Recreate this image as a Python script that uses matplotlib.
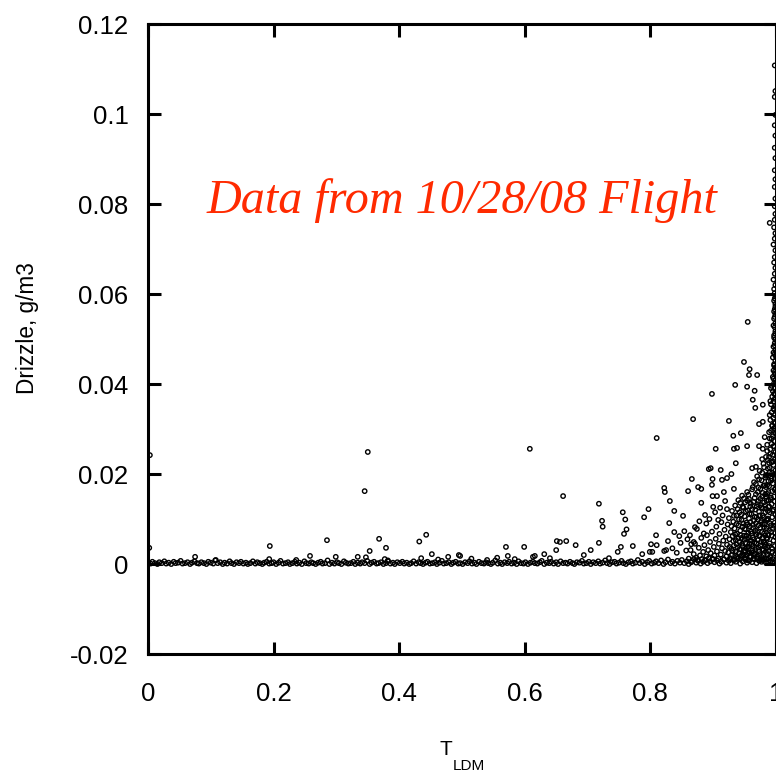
import numpy as np
import matplotlib.pyplot as plt

# T_LDM vs drizzle water content, one flight
x_ticks = [0, 0.2, 0.4, 0.6, 0.8, 1.0]
x_labels = ["0", "0.2", "0.4", "0.6", "0.8", "1"]
y_ticks = [-0.02, 0, 0.02, 0.04, 0.06, 0.08, 0.1, 0.12]
y_labels = ["-0.02", "0", "0.02", "0.04", "0.06", "0.08", "0.1", "0.12"]

# samples sitting on the zero line
base_x = [
    0.000, 0.004, 0.007, 0.011, 0.015, 0.018, 0.022, 0.026, 0.029, 0.033,
    0.037, 0.041, 0.044, 0.048, 0.052, 0.055, 0.059, 0.063, 0.067, 0.070,
    0.074, 0.078, 0.081, 0.085, 0.089, 0.093, 0.096, 0.100, 0.104, 0.107,
    0.111, 0.115, 0.119, 0.122, 0.126, 0.130, 0.133, 0.137, 0.141, 0.145,
    0.148, 0.152, 0.156, 0.159, 0.163, 0.167, 0.171, 0.174, 0.178, 0.182,
    0.185, 0.189, 0.193, 0.197, 0.200, 0.204, 0.208, 0.211, 0.215, 0.219,
    0.223, 0.226, 0.230, 0.234, 0.237, 0.241, 0.245, 0.249, 0.252, 0.256,
    0.260, 0.263, 0.267, 0.271, 0.275, 0.278, 0.282, 0.286, 0.289, 0.293,
    0.297, 0.301, 0.304, 0.308, 0.312, 0.315, 0.319, 0.323, 0.327, 0.330,
    0.334, 0.338, 0.341, 0.345, 0.349, 0.353, 0.356, 0.360, 0.364, 0.367,
    0.371, 0.375, 0.379, 0.382, 0.386, 0.390, 0.393, 0.397, 0.401, 0.405,
    0.408, 0.412, 0.416, 0.419, 0.423, 0.427, 0.431, 0.434, 0.438, 0.442,
    0.445, 0.449, 0.453, 0.457, 0.460, 0.464, 0.468, 0.471, 0.475, 0.479,
    0.483, 0.486, 0.490, 0.494, 0.497, 0.501, 0.505, 0.509, 0.512, 0.516,
    0.520, 0.523, 0.527, 0.531, 0.535, 0.538, 0.542, 0.546, 0.549, 0.553,
    0.557, 0.561, 0.564, 0.568, 0.572, 0.575, 0.579, 0.583, 0.587, 0.590,
    0.594, 0.598, 0.601, 0.605, 0.609, 0.613, 0.616, 0.620, 0.624, 0.627,
    0.631, 0.635, 0.639, 0.642, 0.646, 0.650, 0.653, 0.657, 0.661, 0.665,
    0.668, 0.672, 0.676, 0.679, 0.683, 0.687, 0.691, 0.694, 0.698, 0.702,
    0.705, 0.709, 0.713, 0.717, 0.720, 0.724, 0.728, 0.731, 0.735, 0.739,
    0.743, 0.746, 0.750, 0.754, 0.757, 0.761, 0.765, 0.769, 0.772, 0.776,
    0.780, 0.783, 0.787, 0.791, 0.795, 0.798, 0.802, 0.806, 0.809, 0.813,
    0.817, 0.821, 0.824, 0.828, 0.832, 0.835, 0.839, 0.843, 0.847, 0.850,
    0.854, 0.858, 0.861, 0.865, 0.869, 0.873, 0.876, 0.880, 0.884, 0.887,
    0.891, 0.895, 0.899, 0.902, 0.906, 0.910, 0.913, 0.917, 0.921, 0.925,
    0.928, 0.932, 0.936, 0.939, 0.943, 0.947, 0.951, 0.954, 0.958, 0.962,
    0.965, 0.969, 0.973, 0.977, 0.980, 0.984, 0.988, 0.991, 0.995, 0.999,
]
base_y = [
    0.0003, 0.0001, 0.0005, 0.0002, 0.0000, 0.0004, 0.0002, 0.0006, 0.0001, 0.0003,
    0.0000, 0.0005, 0.0002, 0.0003, 0.0007, 0.0001, 0.0002, 0.0004, 0.0000, 0.0003,
    0.0006, 0.0002, 0.0001, 0.0004, 0.0002, 0.0000, 0.0005, 0.0003, 0.0001, 0.0008,
    0.0002, 0.0004, 0.0000, 0.0003, 0.0001, 0.0006, 0.0002, 0.0000, 0.0004, 0.0002,
    0.0005, 0.0001, 0.0003, 0.0000, 0.0002, 0.0006, 0.0001, 0.0004, 0.0002, 0.0000,
    0.0003, 0.0005, 0.0001, 0.0002, 0.0004, 0.0000, 0.0003, 0.0007, 0.0001, 0.0002,
    0.0004, 0.0000, 0.0002, 0.0005, 0.0001, 0.0003, 0.0000, 0.0006, 0.0002, 0.0001,
    0.0004, 0.0002, 0.0000, 0.0003, 0.0005, 0.0001, 0.0002, 0.0008, 0.0000, 0.0003,
    0.0001, 0.0004, 0.0002, 0.0000, 0.0006, 0.0003, 0.0001, 0.0002, 0.0005, 0.0000,
    0.0003, 0.0001, 0.0004, 0.0002, 0.0007, 0.0000, 0.0003, 0.0005, 0.0001, 0.0002,
    0.0004, 0.0000, 0.0002, 0.0006, 0.0001, 0.0003, 0.0000, 0.0004, 0.0002, 0.0005,
    0.0001, 0.0003, 0.0000, 0.0002, 0.0006, 0.0001, 0.0004, 0.0002, 0.0000, 0.0003,
    0.0005, 0.0001, 0.0002, 0.0004, 0.0000, 0.0003, 0.0007, 0.0001, 0.0002, 0.0004,
    0.0000, 0.0003, 0.0005, 0.0001, 0.0002, 0.0000, 0.0004, 0.0002, 0.0006, 0.0001,
    0.0003, 0.0000, 0.0005, 0.0002, 0.0001, 0.0004, 0.0002, 0.0000, 0.0003, 0.0008,
    0.0001, 0.0003, 0.0000, 0.0004, 0.0002, 0.0005, 0.0001, 0.0003, 0.0000, 0.0006,
    0.0002, 0.0001, 0.0004, 0.0000, 0.0003, 0.0005, 0.0002, 0.0001, 0.0004, 0.0007,
    0.0000, 0.0003, 0.0002, 0.0005, 0.0001, 0.0004, 0.0000, 0.0006, 0.0002, 0.0003,
    0.0001, 0.0005, 0.0002, 0.0000, 0.0004, 0.0003, 0.0007, 0.0001, 0.0002, 0.0005,
    0.0000, 0.0004, 0.0002, 0.0006, 0.0001, 0.0003, 0.0008, 0.0002, 0.0000, 0.0004,
    0.0005, 0.0001, 0.0003, 0.0007, 0.0002, 0.0000, 0.0004, 0.0006, 0.0001, 0.0003,
    0.0009, 0.0002, 0.0005, 0.0000, 0.0004, 0.0007, 0.0001, 0.0003, 0.0006, 0.0002,
    0.0008, 0.0000, 0.0004, 0.0010, 0.0002, 0.0005, 0.0001, 0.0007, 0.0003, 0.0009,
    0.0002, 0.0006, 0.0000, 0.0004, 0.0011, 0.0003, 0.0007, 0.0001, 0.0005, 0.0009,
    0.0002, 0.0006, 0.0012, 0.0004, 0.0008, 0.0001, 0.0005, 0.0010, 0.0003, 0.0007,
    0.0002, 0.0009, 0.0005, 0.0012, 0.0001, 0.0006, 0.0010, 0.0003, 0.0008, 0.0004,
    0.0011, 0.0002, 0.0007, 0.0005, 0.0009, 0.0003, 0.0012, 0.0006, 0.0004, 0.0008,
]

# scattered drizzle events
spread_pts = [
    (0.003, 0.0242), (0.002, 0.0036), (0.075, 0.0016), (0.108, 0.0009), (0.193, 0.0011),
    (0.194, 0.0040), (0.236, 0.0009), (0.258, 0.0018), (0.285, 0.0053), (0.299, 0.0016),
    (0.334, 0.0016), (0.345, 0.0162), (0.347, 0.0015), (0.350, 0.0249), (0.353, 0.0029),
    (0.368, 0.0056), (0.377, 0.0011), (0.379, 0.0036), (0.382, 0.0008), (0.432, 0.0050),
    (0.435, 0.0013), (0.443, 0.0065), (0.452, 0.0022), (0.462, 0.0010), (0.478, 0.0016),
    (0.495, 0.0020), (0.497, 0.0018), (0.515, 0.0012), (0.540, 0.0009), (0.556, 0.0014),
    (0.570, 0.0038), (0.573, 0.0018), (0.584, 0.0011), (0.599, 0.0038), (0.608, 0.0256),
    (0.613, 0.0016), (0.616, 0.0018), (0.631, 0.0022), (0.640, 0.0013), (0.650, 0.0031),
    (0.651, 0.0051), (0.656, 0.0049), (0.661, 0.0151), (0.666, 0.0051), (0.681, 0.0042),
    (0.694, 0.0020), (0.705, 0.0031), (0.718, 0.0134), (0.718, 0.0047), (0.723, 0.0096),
    (0.724, 0.0083), (0.734, 0.0013), (0.748, 0.0027), (0.753, 0.0038), (0.756, 0.0115),
    (0.758, 0.0067), (0.760, 0.0099), (0.762, 0.0077), (0.772, 0.0040), (0.787, 0.0022),
    (0.790, 0.0104), (0.797, 0.0122), (0.799, 0.0027), (0.801, 0.0044), (0.803, 0.0027),
    (0.809, 0.0064), (0.810, 0.0042), (0.810, 0.0280), (0.822, 0.0169), (0.822, 0.0029),
    (0.823, 0.0160), (0.825, 0.0031), (0.828, 0.0051), (0.830, 0.0091), (0.831, 0.0140),
    (0.835, 0.0035), (0.838, 0.0118), (0.838, 0.0071), (0.842, 0.0025), (0.846, 0.0062),
    (0.848, 0.0047), (0.852, 0.0107), (0.854, 0.0073), (0.857, 0.0030), (0.859, 0.0055),
    (0.860, 0.0162), (0.863, 0.0064), (0.865, 0.0044), (0.866, 0.0189), (0.868, 0.0322),
    (0.869, 0.0049), (0.871, 0.0082), (0.874, 0.0078), (0.876, 0.0171), (0.878, 0.0095),
    (0.881, 0.0167), (0.881, 0.0136), (0.885, 0.0068), (0.887, 0.0109), (0.889, 0.0090),
    (0.893, 0.0211), (0.894, 0.0100), (0.896, 0.0213), (0.898, 0.0176), (0.898, 0.0378),
    (0.899, 0.0189), (0.899, 0.0151), (0.900, 0.0127), (0.903, 0.0115), (0.904, 0.0256),
    (0.906, 0.0151), (0.908, 0.0098), (0.911, 0.0125), (0.912, 0.0209), (0.914, 0.0187),
    (0.915, 0.0108), (0.917, 0.0160), (0.919, 0.0140), (0.922, 0.0191), (0.922, 0.0122),
    (0.925, 0.0318), (0.929, 0.0200), (0.932, 0.0285), (0.933, 0.0256), (0.933, 0.0167),
    (0.935, 0.0398), (0.936, 0.0224), (0.938, 0.0258), (0.944, 0.0291), (0.949, 0.0449),
    (0.954, 0.0262), (0.954, 0.0394), (0.955, 0.0538), (0.957, 0.0420), (0.958, 0.0433),
    (0.962, 0.0213), (0.963, 0.0365), (0.966, 0.0385), (0.967, 0.0347), (0.968, 0.0216),
    (0.970, 0.0420), (0.973, 0.0262), (0.973, 0.0311), (0.978, 0.0233), (0.979, 0.0256),
    (0.979, 0.0316), (0.979, 0.0354), (0.982, 0.0282),
]

# dense cloud of drizzle samples as T_LDM approaches 1
blob_pts = [
    (0.861, 0.0012), (0.864, 0.0031), (0.866, 0.0007), (0.869, 0.0022), (0.871, 0.0045),
    (0.873, 0.0014), (0.875, 0.0009), (0.877, 0.0036), (0.879, 0.0019), (0.881, 0.0058),
    (0.882, 0.0011), (0.884, 0.0027), (0.886, 0.0042), (0.887, 0.0008), (0.889, 0.0017),
    (0.890, 0.0064), (0.892, 0.0031), (0.893, 0.0013), (0.895, 0.0049), (0.896, 0.0024),
    (0.898, 0.0072), (0.899, 0.0010), (0.901, 0.0038), (0.902, 0.0019), (0.904, 0.0056),
    (0.905, 0.0083), (0.906, 0.0028), (0.908, 0.0012), (0.909, 0.0045), (0.910, 0.0067),
    (0.912, 0.0021), (0.913, 0.0093), (0.914, 0.0035), (0.916, 0.0052), (0.917, 0.0011),
    (0.918, 0.0076), (0.919, 0.0029), (0.920, 0.0061), (0.921, 0.0017), (0.922, 0.0043),
    (0.923, 0.0088), (0.924, 0.0026), (0.925, 0.0102), (0.926, 0.0055), (0.927, 0.0013),
    (0.928, 0.0071), (0.929, 0.0034), (0.930, 0.0118), (0.930, 0.0020), (0.931, 0.0062),
    (0.932, 0.0094), (0.933, 0.0041), (0.934, 0.0009), (0.934, 0.0079), (0.935, 0.0130),
    (0.936, 0.0027), (0.936, 0.0053), (0.937, 0.0108), (0.938, 0.0016), (0.938, 0.0068),
    (0.939, 0.0037), (0.940, 0.0142), (0.940, 0.0086), (0.941, 0.0024), (0.942, 0.0049),
    (0.942, 0.0115), (0.943, 0.0011), (0.943, 0.0074), (0.944, 0.0032), (0.945, 0.0098),
    (0.945, 0.0058), (0.946, 0.0152), (0.946, 0.0019), (0.947, 0.0083), (0.947, 0.0040),
    (0.948, 0.0125), (0.949, 0.0063), (0.949, 0.0028), (0.950, 0.0106), (0.950, 0.0014),
    (0.951, 0.0047), (0.951, 0.0137), (0.952, 0.0077), (0.952, 0.0035), (0.953, 0.0092),
    (0.953, 0.0021), (0.954, 0.0160), (0.954, 0.0056), (0.955, 0.0119), (0.955, 0.0008),
    (0.956, 0.0069), (0.956, 0.0039), (0.957, 0.0101), (0.957, 0.0145), (0.958, 0.0025),
    (0.958, 0.0084), (0.959, 0.0052), (0.959, 0.0128), (0.960, 0.0016), (0.960, 0.0072),
    (0.961, 0.0044), (0.961, 0.0111), (0.962, 0.0166), (0.962, 0.0030), (0.963, 0.0087),
    (0.963, 0.0059), (0.964, 0.0138), (0.964, 0.0012), (0.965, 0.0097), (0.965, 0.0182),
    (0.966, 0.0048), (0.966, 0.0023), (0.967, 0.0121), (0.967, 0.0075), (0.968, 0.0155),
    (0.968, 0.0036), (0.969, 0.0066), (0.969, 0.0104), (0.970, 0.0195), (0.970, 0.0018),
    (0.971, 0.0133), (0.971, 0.0053), (0.972, 0.0086), (0.972, 0.0170), (0.973, 0.0028),
    (0.973, 0.0116), (0.974, 0.0062), (0.974, 0.0207), (0.975, 0.0145), (0.975, 0.0041),
    (0.976, 0.0093), (0.976, 0.0010), (0.977, 0.0126), (0.977, 0.0186), (0.978, 0.0071),
    (0.978, 0.0033), (0.979, 0.0158), (0.979, 0.0108), (0.980, 0.0223), (0.980, 0.0050),
    (0.980, 0.0020), (0.981, 0.0137), (0.981, 0.0082), (0.982, 0.0175), (0.982, 0.0039),
    (0.983, 0.0115), (0.983, 0.0063), (0.984, 0.0238), (0.984, 0.0150), (0.984, 0.0027),
    (0.985, 0.0098), (0.985, 0.0198), (0.985, 0.0011), (0.978, 0.0009), (0.982, 0.0047),
    (0.979, 0.0089), (0.983, 0.0131), (0.981, 0.0068), (0.986, 0.0037), (0.984, 0.0171),
    (0.987, 0.0212), (0.986, 0.0251), (0.989, 0.0293), (0.988, 0.0142), (0.985, 0.0079),
    (0.990, 0.0331), (0.988, 0.0184), (0.991, 0.0362), (0.987, 0.0118), (0.992, 0.0391),
    (0.983, 0.0192), (0.989, 0.0225), (0.986, 0.0265),
    (0.926, 0.0038), (0.928, 0.0011), (0.929, 0.0084), (0.931, 0.0029), (0.932, 0.0051),
    (0.933, 0.0107), (0.935, 0.0019), (0.935, 0.0066), (0.937, 0.0044), (0.937, 0.0089),
    (0.939, 0.0013), (0.939, 0.0122), (0.940, 0.0057), (0.941, 0.0099), (0.942, 0.0033),
    (0.943, 0.0136), (0.944, 0.0064), (0.944, 0.0018), (0.945, 0.0110), (0.946, 0.0045),
    (0.947, 0.0127), (0.948, 0.0021), (0.948, 0.0090), (0.949, 0.0146), (0.950, 0.0054),
    (0.950, 0.0078), (0.951, 0.0030), (0.952, 0.0117), (0.952, 0.0011), (0.953, 0.0063),
    (0.954, 0.0141), (0.954, 0.0037), (0.955, 0.0088), (0.956, 0.0024), (0.956, 0.0154),
    (0.957, 0.0058), (0.958, 0.0112), (0.958, 0.0045), (0.959, 0.0016), (0.959, 0.0093),
    (0.960, 0.0134), (0.961, 0.0068), (0.961, 0.0026), (0.962, 0.0122), (0.963, 0.0040),
    (0.963, 0.0171), (0.964, 0.0080), (0.965, 0.0055), (0.965, 0.0018), (0.966, 0.0147),
    (0.966, 0.0105), (0.967, 0.0031), (0.968, 0.0091), (0.968, 0.0178), (0.969, 0.0046),
    (0.969, 0.0128), (0.970, 0.0012), (0.970, 0.0071), (0.971, 0.0160), (0.971, 0.0099),
    (0.972, 0.0037), (0.972, 0.0140), (0.973, 0.0064), (0.973, 0.0188), (0.974, 0.0022),
    (0.974, 0.0108), (0.975, 0.0081), (0.975, 0.0167), (0.976, 0.0049), (0.976, 0.0131),
    (0.977, 0.0016), (0.977, 0.0096), (0.978, 0.0150), (0.978, 0.0203), (0.979, 0.0058),
    (0.979, 0.0124), (0.980, 0.0031), (0.980, 0.0174), (0.981, 0.0104), (0.981, 0.0215),
    (0.982, 0.0013), (0.982, 0.0088), (0.983, 0.0155), (0.983, 0.0043), (0.984, 0.0123),
    (0.984, 0.0196), (0.985, 0.0058), (0.985, 0.0141), (0.986, 0.0022), (0.986, 0.0176),
    (0.987, 0.0101), (0.987, 0.0231), (0.988, 0.0064), (0.988, 0.0160), (0.989, 0.0040),
    (0.989, 0.0128), (0.990, 0.0204), (0.990, 0.0091), (0.991, 0.0015), (0.991, 0.0245),
    (0.992, 0.0148), (0.992, 0.0071), (0.993, 0.0279), (0.993, 0.0190), (0.994, 0.0027),
    (0.994, 0.0307), (0.995, 0.0228), (0.995, 0.0118), (0.996, 0.0345), (0.996, 0.0262),
    (0.997, 0.0085), (0.997, 0.0378), (0.998, 0.0165), (0.998, 0.0313), (0.999, 0.0060),
    (0.999, 0.0400), (0.997, 0.0296), (0.996, 0.0198),
]

# column of samples right at T_LDM = 1
edge_pts = [
    (0.987, 0.0006), (0.995, 0.0011), (0.991, 0.0017), (0.999, 0.0023), (0.988, 0.0029),
    (0.994, 0.0034), (0.998, 0.0040), (0.990, 0.0046), (0.996, 0.0052), (0.986, 0.0057),
    (0.993, 0.0063), (0.999, 0.0069), (0.989, 0.0075), (0.995, 0.0080), (0.992, 0.0086),
    (0.998, 0.0092), (0.987, 0.0098), (0.994, 0.0104), (0.999, 0.0110), (0.990, 0.0115),
    (0.996, 0.0121), (0.988, 0.0127), (0.993, 0.0133), (0.998, 0.0139), (0.991, 0.0144),
    (0.997, 0.0150), (0.986, 0.0156), (0.994, 0.0162), (0.999, 0.0168), (0.989, 0.0173),
    (0.995, 0.0179), (0.992, 0.0185), (0.998, 0.0191), (0.988, 0.0197), (0.994, 0.0203),
    (0.999, 0.0208), (0.990, 0.0214), (0.996, 0.0220), (0.993, 0.0226), (0.998, 0.0232),
    (0.989, 0.0238), (0.995, 0.0243), (0.999, 0.0249), (0.991, 0.0255), (0.997, 0.0261),
    (0.993, 0.0267), (0.998, 0.0273), (0.990, 0.0279), (0.995, 0.0284), (0.999, 0.0290),
    (0.992, 0.0296), (0.997, 0.0302), (0.994, 0.0308), (0.999, 0.0314), (0.991, 0.0320),
    (0.996, 0.0325), (0.998, 0.0331), (0.993, 0.0337), (0.997, 0.0343), (0.999, 0.0349),
    (0.992, 0.0355), (0.996, 0.0361), (0.998, 0.0367), (0.994, 0.0372), (0.999, 0.0378),
    (0.995, 0.0384), (0.998, 0.0390), (0.993, 0.0396), (0.997, 0.0402), (0.999, 0.0409),
    (0.995, 0.0416), (0.998, 0.0423), (0.996, 0.0430), (0.999, 0.0437), (0.997, 0.0444),
    (0.999, 0.0452), (0.995, 0.0459), (0.998, 0.0467), (0.999, 0.0475), (0.996, 0.0483),
    (0.998, 0.0491), (0.999, 0.0499), (0.997, 0.0508), (0.999, 0.0517), (0.998, 0.0526),
    (0.999, 0.0535), (0.997, 0.0545), (0.999, 0.0555), (0.998, 0.0566), (0.999, 0.0578),
    (0.998, 0.0590), (0.996, 0.0412), (0.998, 0.0427), (0.997, 0.0441), (0.999, 0.0463),
    (0.996, 0.0470), (0.998, 0.0486), (0.997, 0.0503), (0.999, 0.0512), (0.996, 0.0530),
    (0.998, 0.0549), (0.997, 0.0561), (0.999, 0.0572), (0.997, 0.0585), (0.999, 0.0596),
    (0.998, 0.0602), (0.997, 0.0611), (0.999, 0.0620), (0.996, 0.0632),
    (0.998, 0.0645), (0.999, 0.0658), (0.997, 0.0670), (0.998, 0.0682), (0.999, 0.0697),
    (0.996, 0.0710), (0.998, 0.0723), (0.999, 0.0735), (0.997, 0.0748), (0.990, 0.0758),
    (0.998, 0.0765), (0.999, 0.0778), (0.998, 0.0795), (0.999, 0.0812), (0.998, 0.0838),
    (0.999, 0.0855), (0.998, 0.0875), (0.999, 0.0902), (0.998, 0.0925), (0.999, 0.0952),
    (0.998, 0.0975), (0.999, 0.0998), (0.998, 0.1038), (0.999, 0.1051), (0.998, 0.1108),
]

pts = np.array(spread_pts + blob_pts + edge_pts)
x = np.concatenate([base_x, pts[:, 0]])
y = np.concatenate([base_y, pts[:, 1]])

fig = plt.figure(figsize=(7.76, 7.72), dpi=100)
ax = fig.add_axes([0.1907, 0.1528, 0.8093, 0.8161])

ax.scatter(x, y, s=10, facecolors="none", edgecolors="black", linewidths=1.0)

ax.set_xlim(0, 1)
ax.set_ylim(-0.02, 0.12)
ax.set_xticks(x_ticks)
ax.set_xticklabels(x_labels)
ax.set_yticks(y_ticks)
ax.set_yticklabels(y_labels)

for s in ax.spines.values():
    s.set_linewidth(2.2)
ax.tick_params(direction="in", length=9, width=2.2, top=True, right=True,
               labelsize=18.5)
ax.tick_params(axis="x", pad=20)
ax.tick_params(axis="y", pad=14)
for lbl in ax.get_xticklabels() + ax.get_yticklabels():
    lbl.set_family("Liberation Sans")

fig.text(28 / 776, 1 - 328 / 772, "Drizzle, g/m3", rotation=90,
         ha="center", va="center", fontsize=16.3, family="Liberation Sans")
fig.text(440 / 776, 1 - 755 / 772, "T", ha="left", va="baseline",
         fontsize=15, family="Liberation Sans")
fig.text(453 / 776, 1 - 770 / 772, "LDM", ha="left", va="baseline",
         fontsize=11, family="Liberation Sans")

fig.text(207 / 776, 1 - 213 / 772, "Data from 10/28/08 Flight",
         ha="left", va="baseline", fontsize=34.7, color="#ff2a00",
         family="Liberation Serif", style="italic")

fig.savefig("out.png", dpi=100)
